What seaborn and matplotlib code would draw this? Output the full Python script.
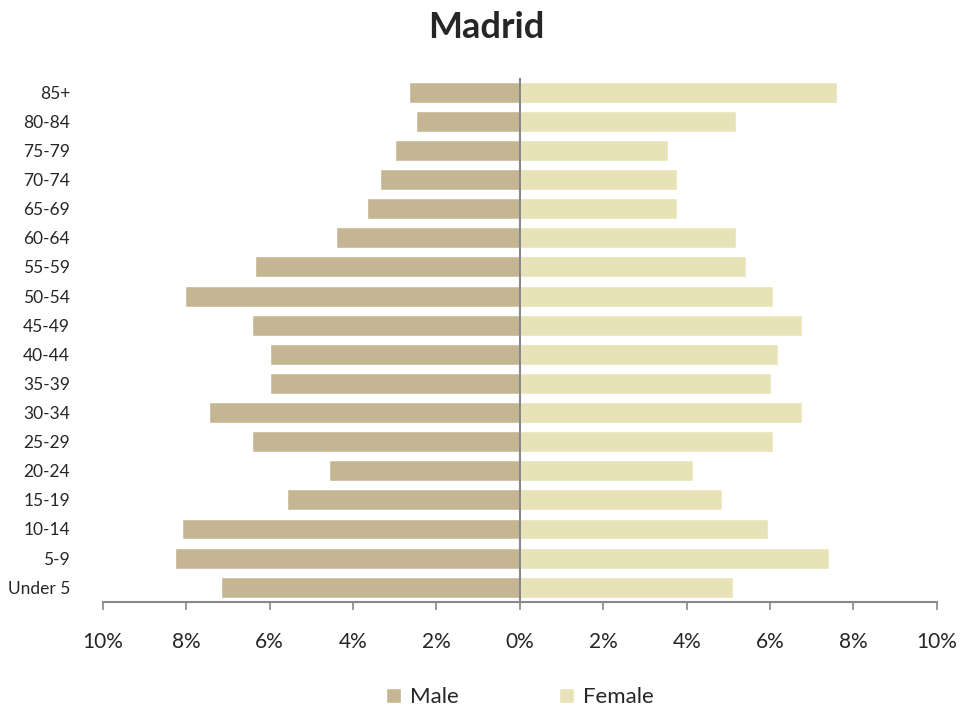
import matplotlib.pyplot as plt
import seaborn as sns
import pandas as pd
from matplotlib.ticker import FuncFormatter

# age groups, top to bottom
age_groups = ["85+", "80-84", "75-79", "70-74", "65-69", "60-64", "55-59",
              "50-54", "45-49", "40-44", "35-39", "30-34", "25-29", "20-24",
              "15-19", "10-14", "5-9", "Under 5"]
# share of population (%)
male = [2.66, 2.49, 3.0, 3.36, 3.67, 4.41, 6.35, 8.03, 6.43, 6.0, 6.0,
        7.46, 6.43, 4.58, 5.59, 8.11, 8.27, 7.17]
female = [7.60, 5.18, 3.55, 3.76, 3.76, 5.18, 5.42, 6.07, 6.76, 6.19, 6.02,
          6.76, 6.07, 4.15, 4.84, 5.95, 7.41, 5.11]
x_ticks = [-10, -8, -6, -4, -2, 0, 2, 4, 6, 8, 10]

df = pd.concat([
    pd.DataFrame({"age": age_groups, "value": [-v for v in male], "sex": "Male"}),
    pd.DataFrame({"age": age_groups, "value": female, "sex": "Female"}),
])

sns.set_style("white")
plt.rcParams['font.family'] = ['Lato', 'DejaVu Sans']

fig = plt.figure(figsize=(9.79, 7.13), dpi=100)
ax = fig.add_axes([0.105, 0.156, 0.852, 0.735])

sns.barplot(data=df, x="value", y="age", hue="sex", order=age_groups,
            hue_order=["Male", "Female"], dodge=False, orient="h",
            palette={"Male": "#C4B593", "Female": "#E8E2B8"},
            saturation=1, width=0.72, ax=ax)

ax.axvline(0, color="#888888", lw=1.5, zorder=5)
ax.set_xlim(-10, 10)
ax.set_xticks(x_ticks)
ax.xaxis.set_major_formatter(FuncFormatter(lambda v, p: f"{abs(v):.0f}%"))
ax.set_xlabel("")
ax.set_ylabel("")

for s in ["top", "right", "left"]:
    ax.spines[s].set_visible(False)
ax.spines["bottom"].set_color("#888888")
ax.spines["bottom"].set_linewidth(1.5)
ax.tick_params(axis="x", bottom=True, direction="out", length=6, width=1.2,
               color="#888888", labelsize=15, pad=16)
ax.tick_params(axis="y", left=False, labelsize=12.5, pad=20)

fig.suptitle("Madrid", x=0.497, y=0.985, fontsize=26, fontweight="bold")

ax.legend(loc="upper center", bbox_to_anchor=(0.5, -0.125), ncol=2,
          frameon=False, fontsize=16, handlelength=0.7, handleheight=0.7,
          columnspacing=4.5, handletextpad=0.4)

fig.savefig("out.png", dpi=100)
